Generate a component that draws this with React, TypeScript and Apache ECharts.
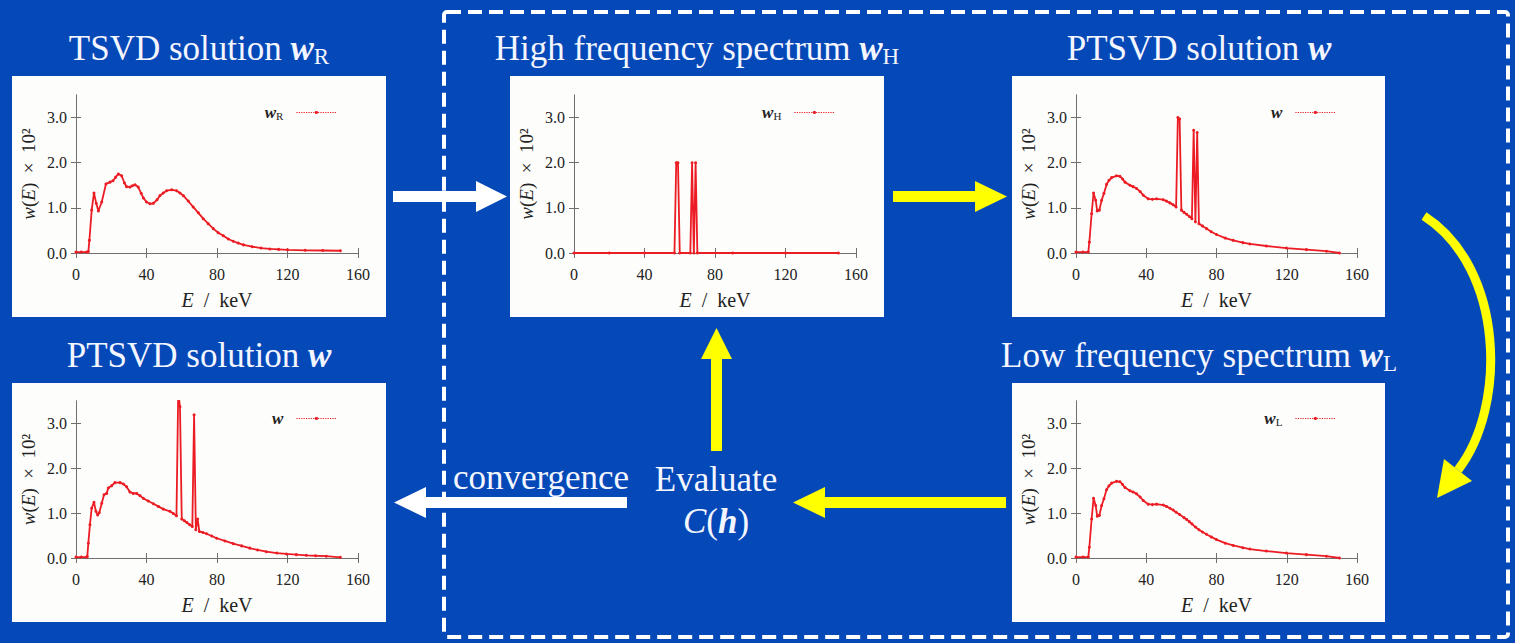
import React, { useEffect, useRef } from "react";
import * as echarts from "echarts";

// ---------- data ----------
const X_TICKS = [0, 40, 80, 120, 160];
const Y_TICKS = [0, 1, 2, 3];

// TSVD solution w_R
const wR: number[][] = [
  [0, 0.02], [3, 0.02], [6, 0.02], [7, 0.03], [7.6, 0.28], [8.9, 0.95], [10.2, 1.33], [11.5, 1.1],
  [12.7, 0.93], [14.6, 1.13], [17, 1.53], [19.3, 1.57], [21, 1.6], [22.5, 1.68], [24, 1.75],
  [25.9, 1.71], [27.5, 1.55], [28.7, 1.47], [30.6, 1.46], [32, 1.49], [33.5, 1.51], [35.3, 1.46],
  [37, 1.32], [38.2, 1.22], [40, 1.13], [42, 1.09], [43.9, 1.1], [46, 1.18], [47.6, 1.27],
  [49.5, 1.33], [51.4, 1.38], [54.3, 1.4], [57.1, 1.38], [59, 1.33], [60.9, 1.27], [63.7, 1.15],
  [66.5, 1.02], [69.4, 0.89], [72.2, 0.76], [75, 0.65], [77.9, 0.54], [80.7, 0.45], [83.6, 0.38],
  [86.4, 0.31], [89.2, 0.26], [92, 0.22], [95, 0.18], [100, 0.14], [105, 0.11], [110, 0.09],
  [115, 0.08], [120, 0.07], [130, 0.06], [140, 0.055], [150, 0.05],
];

// High frequency spectrum w_H
const wH: number[][] = [
  [0, 0], [20, 0], [40, 0], [57, 0], [58, 2.0], [59, 2.0], [60, 0], [66, 0], [67, 2.0],
  [68, 0], [69, 2.0], [70, 0], [90, 0], [120, 0], [150, 0],
];

// PTSVD solution w (first iteration)
const wTop: number[][] = [
  [0, 0.02], [4, 0.02], [7, 0.02], [7.6, 0.24], [8.9, 0.87], [10, 1.33], [11.2, 1.17], [12.1, 0.93],
  [13.3, 0.95], [14.6, 1.17], [15.9, 1.32], [17.4, 1.52], [18.8, 1.61], [20.3, 1.67], [23.1, 1.71],
  [25, 1.7], [26.5, 1.64], [27.9, 1.57], [30.7, 1.5], [32.5, 1.47], [34.5, 1.43], [36.5, 1.36],
  [38.3, 1.28], [41.1, 1.2], [43.5, 1.19], [45.9, 1.2], [49.7, 1.18], [51.5, 1.15], [53.5, 1.11],
  [55.3, 1.07], [57, 1.02], [58, 3.0], [59, 2.97], [60, 0.95], [61.5, 0.9], [63, 0.86],
  [64.5, 0.81], [66, 0.76], [67, 2.72], [68, 0.69], [69, 2.67], [70, 0.65], [72, 0.6],
  [74.3, 0.54], [77, 0.47], [80, 0.41], [85, 0.33], [89.5, 0.28], [95, 0.23], [99, 0.2],
  [108.4, 0.155], [119.8, 0.11], [131.2, 0.075], [142.6, 0.04], [150, 0.0],
];

// Low frequency spectrum w_L
const wL: number[][] = [
  [0, 0.02], [4, 0.02], [7, 0.02], [7.6, 0.24], [8.9, 0.87], [10, 1.33], [11.2, 1.17], [12.1, 0.93],
  [13.3, 0.95], [14.6, 1.17], [15.9, 1.32], [17.4, 1.52], [18.8, 1.61], [20.3, 1.67], [23.1, 1.71],
  [25, 1.7], [26.5, 1.64], [27.9, 1.57], [30.7, 1.5], [32.5, 1.47], [34.5, 1.43], [36.5, 1.36],
  [38.3, 1.28], [41.1, 1.2], [43.5, 1.19], [45.9, 1.2], [49.7, 1.18], [51.5, 1.15], [53.5, 1.11],
  [55.3, 1.07], [57, 1.02], [59, 0.97], [61.5, 0.9], [63, 0.86], [64.5, 0.81], [66, 0.76],
  [68, 0.69], [70, 0.63], [72, 0.58], [74.3, 0.53], [77, 0.47], [80, 0.41], [85, 0.33],
  [89.5, 0.28], [95, 0.23], [99, 0.2], [108.4, 0.155], [119.8, 0.11], [131.2, 0.075],
  [142.6, 0.04], [150, 0.0],
];

// PTSVD solution w (converged)
const wConv: number[][] = [
  [0, 0.02], [3, 0.02], [6, 0.02], [6.4, 0.03], [7, 0.33], [7.9, 0.74], [8.9, 1.11], [10.2, 1.24],
  [11.3, 1.04], [12.3, 0.96], [13.2, 1.01], [14.6, 1.22], [15.9, 1.41], [17.4, 1.44], [18.3, 1.56],
  [20.2, 1.61], [22.1, 1.68], [25, 1.68], [26.9, 1.65], [28.7, 1.59], [30.6, 1.47], [32.5, 1.44],
  [34.4, 1.44], [36.3, 1.39], [38.2, 1.33], [41, 1.27], [43.9, 1.21], [46.7, 1.15], [49.5, 1.09],
  [53.3, 1.04], [55.2, 0.99], [57, 0.94], [58, 3.7], [59, 3.37], [60, 0.87], [61.5, 0.83],
  [62.9, 0.79], [64.5, 0.74], [66, 0.7], [67, 3.19], [68, 0.63], [69, 0.87], [70, 0.59],
  [72, 0.57], [74.1, 0.54], [77, 0.49], [79.8, 0.44], [84.5, 0.38], [89.2, 0.32], [94, 0.27],
  [98.6, 0.22], [103, 0.18], [108, 0.14], [114, 0.11], [119.4, 0.09], [125, 0.075],
  [130.7, 0.06], [136, 0.05], [142, 0.04], [150, 0.015],
];

const SERIES_NAMES = ["wR", "wH", "wTop", "wConv", "wL"];
const LEGEND_SUBS = ["R", "H", "", "", "L"];
const TITLE_TEXTS = [
  "TSVD solution ",
  "High frequency spectrum ",
  "PTSVD solution ",
  "PTSVD solution ",
  "Low frequency spectrum ",
];

// ---------- layout / style ----------
const SERIF = "'Liberation Serif', 'DejaVu Serif', serif";
const BLUE = "#0548b8";
const YELLOW = "#ffff00";
const RED = "#ec1c24";
const AXIS_GRAY = "#707070";
const PANEL_FILL = "#fdfdfb";
const TITLE_FS = 35;

const layouts = [
  { box: [12, 76, 374, 241], grid: [76, 95, 282, 158], legend: [1173, 99], title: [199, 48] },
  { box: [510, 76, 374, 241], grid: [574, 95, 282, 158], legend: [675, 99], title: [697, 48] },
  { box: [1012, 76, 373, 241], grid: [1076, 95, 281, 158], legend: [174, 99], title: [1199, 48] },
  { box: [12, 383, 374, 239], grid: [76, 401, 282, 157], legend: [1173, 405], title: [199, 355] },
  { box: [1012, 383, 373, 239], grid: [1076, 401, 281, 157], legend: [174, 405], title: [1199, 355] },
];

function buildOption() {
  const seriesData = [wR, wH, wTop, wConv, wL];
  const grids: any[] = [];
  const xAxes: any[] = [];
  const yAxes: any[] = [];
  const series: any[] = [];
  const legends: any[] = [];
  const graphics: any[] = [];

  const lineStyle = { color: AXIS_GRAY, width: 1 };
  const tickStyle = { color: AXIS_GRAY, width: 1 };

  layouts.forEach((L, i) => {
    const [gl, gt, gw, gh] = L.grid;
    grids.push({ left: gl, top: gt, width: gw, height: gh, show: false });

    const xBase = {
      gridIndex: i,
      type: "value",
      min: 0,
      max: 160,
      interval: 40,
      splitLine: { show: false },
      axisLine: { show: true, lineStyle },
      axisTick: { show: true, inside: true, length: 5, lineStyle: tickStyle, customValues: X_TICKS },
    };
    xAxes.push({
      ...xBase,
      position: "bottom",
      axisLabel: {
        show: true,
        margin: 13,
        fontSize: 16,
        fontFamily: SERIF,
        color: "#222",
        customValues: X_TICKS,
      },
      name: "{i|E}  /  keV",
      nameLocation: "middle",
      nameGap: 37,
      nameTextStyle: {
        fontSize: 20,
        fontFamily: SERIF,
        color: "#222",
        rich: {
          i: { fontSize: 20, fontFamily: SERIF, fontStyle: "italic", color: "#222" },
        },
      },
    });
    xAxes.push({ ...xBase, position: "top", axisLabel: { show: false } });

    const yBase = {
      gridIndex: i,
      type: "value",
      min: 0,
      max: 3.5,
      interval: 1,
      splitLine: { show: false },
      axisLine: { show: true, lineStyle },
      axisTick: { show: true, inside: true, length: 5, lineStyle: tickStyle, customValues: Y_TICKS },
    };
    yAxes.push({
      ...yBase,
      position: "left",
      axisLabel: {
        show: true,
        margin: 9,
        fontSize: 16,
        fontFamily: SERIF,
        color: "#222",
        customValues: Y_TICKS,
        formatter: (v: number) => v.toFixed(1),
      },
      name: "{i|w}({i|E})  ×  10²",
      nameLocation: "middle",
      nameGap: 38,
      nameRotate: 90,
      nameTextStyle: {
        fontSize: 19,
        fontFamily: SERIF,
        color: "#222",
        rich: {
          i: { fontSize: 19, fontFamily: SERIF, fontStyle: "italic", color: "#222" },
        },
      },
    });
    yAxes.push({ ...yBase, position: "right", axisLabel: { show: false } });

    series.push({
      type: "line",
      name: SERIES_NAMES[i],
      xAxisIndex: 2 * i,
      yAxisIndex: 2 * i,
      data: seriesData[i],
      symbol: "circle",
      symbolSize: 3,
      showSymbol: true,
      clip: true,
      lineStyle: { color: RED, width: 1.8 },
      itemStyle: { color: RED },
      emphasis: { disabled: true },
    });

    const sub = LEGEND_SUBS[i];
    legends.push({
      data: [SERIES_NAMES[i]],
      right: L.legend[0],
      top: L.legend[1],
      align: "right",
      itemWidth: 40,
      itemHeight: 4,
      selectedMode: false,
      lineStyle: { type: "dotted", width: 1.2 },
      formatter: () => (sub ? `{w|w}{s|${sub}}` : "{w|w}"),
      textStyle: {
        padding: [0, 8, 0, 0],
        rich: {
          w: { fontSize: 17, fontFamily: SERIF, fontStyle: "italic", fontWeight: "bold", color: "#222", lineHeight: 18 },
          s: { fontSize: 11, fontFamily: SERIF, color: "#222", lineHeight: 12, verticalAlign: "bottom" },
        },
      },
    });

    const [bx, by, bw, bh] = L.box;
    graphics.push({
      type: "rect",
      z: -10,
      shape: { x: bx, y: by, width: bw, height: bh },
      style: { fill: PANEL_FILL },
    });

    const tsub = LEGEND_SUBS[i];
    graphics.push({
      type: "text",
      x: L.title[0],
      y: L.title[1],
      z: 10,
      style: {
        text: `{n|${TITLE_TEXTS[i]}}{w|w}` + (tsub ? `{s|${tsub}}` : ""),
        align: "center",
        verticalAlign: "middle",
        rich: {
          n: { fontSize: TITLE_FS, fontFamily: SERIF, fill: "#f4f6ff", lineHeight: 40 },
          w: { fontSize: TITLE_FS, fontFamily: SERIF, fontStyle: "italic", fontWeight: "bold", fill: "#f4f6ff", lineHeight: 40 },
          s: { fontSize: 23, fontFamily: SERIF, fill: "#f4f6ff", lineHeight: 26, verticalAlign: "bottom" },
        },
      },
    });
  });

  // dashed loop frame
  graphics.push({
    type: "rect",
    z: 5,
    shape: { x: 444, y: 12, width: 1064, height: 625, r: 3 },
    style: { fill: "none", stroke: "#ffffff", lineWidth: 4, lineDash: [14, 7] },
  });

  // arrows
  const arrow = (points: number[][], fill: string) => ({
    type: "polygon",
    z: 10,
    shape: { points },
    style: { fill },
  });
  graphics.push(
    arrow([[393, 191], [476, 191], [476, 181], [507, 196.5], [476, 212], [476, 202], [393, 202]], "#ffffff")
  );
  graphics.push(
    arrow([[893, 191], [975, 191], [975, 181], [1007, 196.5], [975, 212], [975, 202], [893, 202]], YELLOW)
  );
  graphics.push(
    arrow([[711, 451], [711, 359], [701, 359], [716.5, 328], [732, 359], [722, 359], [722, 451]], YELLOW)
  );
  graphics.push(
    arrow([[1006, 497], [825, 497], [825, 487], [793, 502.5], [825, 518], [825, 508], [1006, 508]], YELLOW)
  );
  graphics.push(
    arrow([[627, 497], [426, 497], [426, 487], [394, 502.5], [426, 518], [426, 508], [627, 508]], "#ffffff")
  );
  // curved arrow
  graphics.push({
    type: "bezierCurve",
    z: 10,
    shape: { x1: 1424, y1: 216, cpx1: 1505, cpy1: 268, cpx2: 1507, cpy2: 407, x2: 1458, y2: 470 },
    style: { stroke: YELLOW, lineWidth: 9, fill: "none" },
  });
  graphics.push(arrow([[1437, 498], [1444, 459], [1472, 481]], YELLOW));

  // texts
  graphics.push({
    type: "text",
    x: 541,
    y: 477,
    z: 10,
    style: { text: "convergence", fontSize: TITLE_FS, fontFamily: SERIF, fill: "#f4f6ff", align: "center", verticalAlign: "middle" },
  });
  graphics.push({
    type: "text",
    x: 716,
    y: 479,
    z: 10,
    style: { text: "Evaluate", fontSize: TITLE_FS, fontFamily: SERIF, fill: "#f4f6ff", align: "center", verticalAlign: "middle" },
  });
  graphics.push({
    type: "text",
    x: 716,
    y: 521,
    z: 10,
    style: {
      text: "{c|C}{n|(}{h|h}{n|)}",
      align: "center",
      verticalAlign: "middle",
      rich: {
        c: { fontSize: TITLE_FS, fontFamily: SERIF, fontStyle: "italic", fill: "#f4f6ff", lineHeight: 40 },
        n: { fontSize: TITLE_FS, fontFamily: SERIF, fill: "#f4f6ff", lineHeight: 40 },
        h: { fontSize: TITLE_FS, fontFamily: SERIF, fontStyle: "italic", fontWeight: "bold", fill: "#f4f6ff", lineHeight: 40 },
      },
    },
  });

  return {
    animation: false,
    backgroundColor: BLUE,
    grid: grids,
    xAxis: xAxes,
    yAxis: yAxes,
    series,
    legend: legends,
    graphic: { elements: graphics },
  };
}

export default function App() {
  const ref = useRef<HTMLDivElement>(null);
  useEffect(() => {
    document.body.style.margin = "0";
    const chart = echarts.init(ref.current as HTMLDivElement, null, { renderer: "svg" });
    chart.setOption(buildOption() as any);
    return () => chart.dispose();
  }, []);
  return <div ref={ref} style={{ width: 1515, height: 643 }} />;
}
